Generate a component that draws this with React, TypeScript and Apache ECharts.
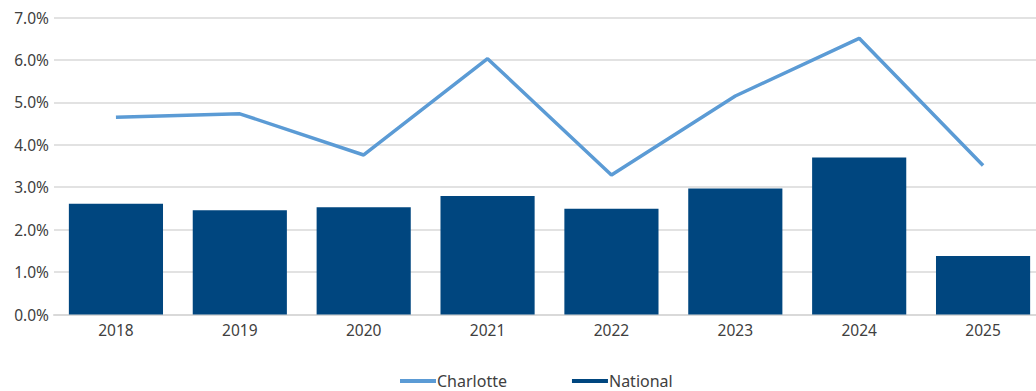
import React, { useEffect, useRef } from "react";
import * as echarts from "echarts";

const years = ["2018", "2019", "2020", "2021", "2022", "2023", "2024", "2025"];
const charlotte = [4.65, 4.73, 3.76, 6.03, 3.29, 5.15, 6.51, 3.51];
const national = [2.61, 2.46, 2.53, 2.79, 2.49, 2.97, 3.7, 1.38];

export default function App() {
  const ref = useRef<HTMLDivElement>(null);
  useEffect(() => {
    const chart = echarts.init(ref.current!, null, { renderer: "svg" });
    const font = "'Noto Sans', sans-serif";
    chart.setOption({
      animation: false,
      textStyle: { fontFamily: font },
      grid: { left: 54, width: 991, top: 17.5, bottom: 76.5, containLabel: false, outerBoundsMode: "none" },
      legend: {
        top: 373,
        left: 400,
        padding: 0,
        itemWidth: 36,
        itemHeight: 4,
        itemGap: 65,
        icon: "rect",
        textStyle: { color: "#404040", fontSize: 16, fontFamily: font, padding: [0, 0, 0, -4] },
        data: [
          { name: "Charlotte", itemStyle: { color: "#5B9BD5" } },
          { name: "National", itemStyle: { color: "#00467F" } },
        ],
      },
      xAxis: {
        type: "category",
        data: years,
        axisLine: { show: true, lineStyle: { color: "#d9d9d9", width: 2 } },
        axisTick: { show: false },
        axisLabel: { color: "#404040", fontSize: 15.5, margin: 7 },
      },
      yAxis: {
        type: "value",
        min: 0,
        max: 7,
        interval: 1,
        axisLine: { show: false },
        axisTick: { show: false },
        splitLine: { lineStyle: { color: "#d9d9d9", width: 1.5 } },
        axisLabel: {
          color: "#404040",
          fontSize: 15.5,
          margin: 5,
          formatter: (v: number) => v.toFixed(1) + "%",
        },
      },
      series: [
        {
          name: "National",
          type: "bar",
          data: national,
          barCategoryGap: "24%",
          itemStyle: { color: "#00467F" },
        },
        {
          name: "Charlotte",
          type: "line",
          data: charlotte,
          symbol: "none",
          lineStyle: { color: "#5B9BD5", width: 3.5 },
          itemStyle: { color: "#5B9BD5" },
        },
      ],
    });
    return () => chart.dispose();
  }, []);
  return <div ref={ref} style={{ width: 1036, height: 391, position: "absolute", left: 0, top: 0 }} />;
}
